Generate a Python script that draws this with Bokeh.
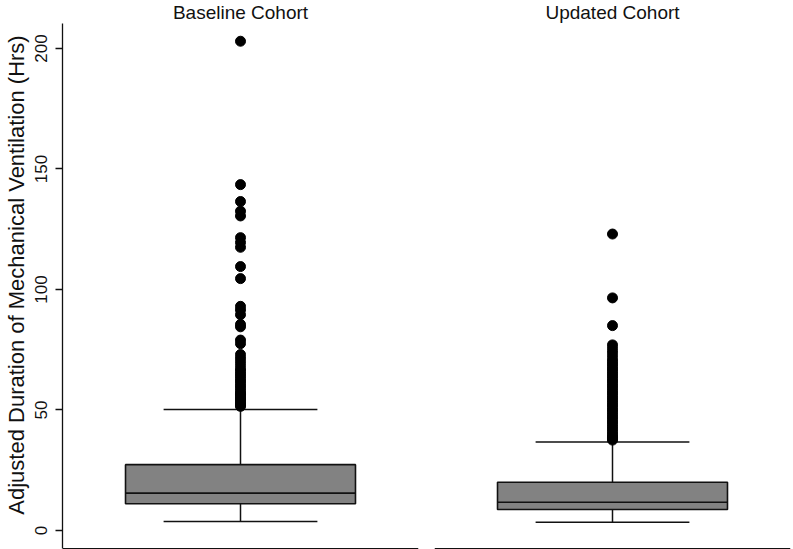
from bokeh.plotting import figure
from bokeh.layouts import row
from bokeh.models import Range1d, FixedTicker, ColumnDataSource
from bokeh.core.properties import value
from bokeh.embed import file_html
from bokeh.resources import INLINE

# ---- data ----
cohorts = ["Baseline Cohort", "Updated Cohort"]
whisker_low = [3.7, 3.4]
q1 = [11.1, 8.7]
median = [15.5, 11.7]
q3 = [27.3, 20.0]
whisker_high = [50.2, 36.7]
outliers_baseline = [203, 143.5, 136.5, 132.5, 130.5, 121.5, 119.5, 117.5, 109.5, 104.5,
                     93, 91.5, 89.5, 85.5, 84.5, 79, 77.5, 73, 71.5, 70, 68.5, 67, 66, 65,
                     64, 63, 62, 61, 60, 59, 58, 57, 56.5, 56, 55, 54.5, 54, 53, 52.5, 52, 51.5]
outliers_updated = [123, 96.5, 85, 77, 75.5, 74, 72.5, 71, 70, 69, 68, 67, 66, 65, 64, 63,
                    62, 61, 60, 59, 58, 57, 56, 55, 54, 53, 52, 51, 50, 49, 48, 47, 46, 45,
                    44, 43, 42, 41, 40, 39, 38.5, 38, 37.5]
y_ticks = [0, 50, 100, 150, 200]
y_label = "Adjusted Duration of Mechanical Ventilation (Hrs)"

FONT = "Liberation Sans"
BOX_FILL = "#828282"
LINE = "#111111"

Y_MIN, Y_MAX = -7.9, 219.9      # visible range of the panels
AXIS_LO, AXIS_HI = -7.5, 210.2  # extent of the drawn axis lines
TITLE_Y = 215.0


def make_panel(i, outs, width, left_axis):
    p = figure(width=width, height=549, output_backend="svg", toolbar_location=None,
               x_range=Range1d(0, 1), y_range=Range1d(Y_MIN, Y_MAX),
               min_border_top=0, min_border_bottom=0,
               min_border_left=61 if left_axis else 9,
               min_border_right=7 if left_axis else 3)
    p.outline_line_color = None
    p.xgrid.visible = False
    p.ygrid.visible = False
    p.xaxis.visible = False
    p.background_fill_color = "white"
    p.border_fill_color = "white"

    if left_axis:
        p.yaxis.ticker = FixedTicker(ticks=y_ticks)
        p.yaxis.bounds = (AXIS_LO, AXIS_HI)
        p.yaxis.major_label_orientation = "vertical"
        p.yaxis.major_label_text_font = FONT
        p.yaxis.major_label_text_font_size = "17px"
        p.yaxis.major_label_text_color = "#111111"
        p.yaxis.major_tick_out = 7
        p.yaxis.major_tick_in = 0
        p.yaxis.minor_tick_out = 0
        p.yaxis.minor_tick_in = 0
        p.yaxis.axis_line_color = LINE
        p.yaxis.axis_line_width = 1.3
        p.yaxis.major_tick_line_color = LINE
        p.yaxis.major_tick_line_width = 1.3
        p.yaxis.axis_label = y_label
        p.yaxis.axis_label_text_font = FONT
        p.yaxis.axis_label_text_font_size = "22px"
        p.yaxis.axis_label_text_font_style = "normal"
        p.yaxis.axis_label_text_color = "#111111"
        p.yaxis.axis_label_standoff = 4
        p.yaxis.major_label_standoff = 8
    else:
        p.yaxis.visible = False

    # bottom baseline of the panel
    p.segment(x0=[0], y0=[AXIS_LO], x1=[1], y1=[AXIS_LO], line_color=LINE, line_width=1.3)

    # panel title
    p.text(x=[0.5], y=[TITLE_Y], text=[cohorts[i]], text_align="center",
           text_baseline="alphabetic", text_font=value(FONT), text_font_size="19px",
           text_color="#111111")

    c = 0.5
    bw = 0.646
    cw = 0.432
    # whiskers
    p.segment(x0=[c, c], y0=[whisker_low[i], q3[i]], x1=[c, c], y1=[q1[i], whisker_high[i]],
              line_color=LINE, line_width=1.5)
    p.segment(x0=[c - cw / 2, c - cw / 2], y0=[whisker_low[i], whisker_high[i]],
              x1=[c + cw / 2, c + cw / 2], y1=[whisker_low[i], whisker_high[i]],
              line_color=LINE, line_width=1.5)
    # box
    p.quad(left=[c - bw / 2], right=[c + bw / 2], bottom=[q1[i]], top=[q3[i]],
           fill_color=BOX_FILL, line_color=LINE, line_width=1.6)
    p.segment(x0=[c - bw / 2], y0=[median[i]], x1=[c + bw / 2], y1=[median[i]],
              line_color=LINE, line_width=1.6)
    # outliers
    src = ColumnDataSource(dict(x=[c] * len(outs), y=outs))
    p.scatter("x", "y", source=src, size=10, fill_color="black", line_color="black")
    return p


left = make_panel(0, outliers_baseline, 425, True)
right = make_panel(1, outliers_updated, 368, False)
layout = row(left, right)

open("out.html", "w").write(file_html(layout, INLINE))
